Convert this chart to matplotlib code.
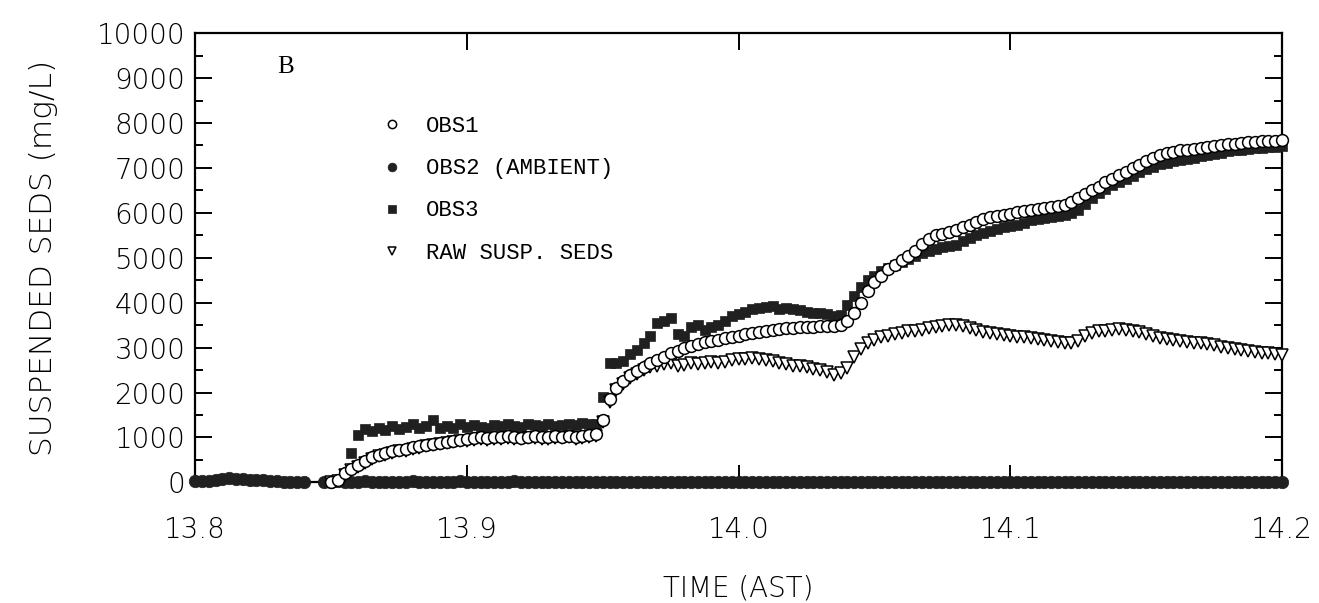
import numpy as np
import matplotlib.pyplot as plt

# sample spacing of the logger record (hours)
step = 0.0025

# OBS2 (ambient) record starts at 13.80; two missing samples near 13.843
ambient_start = 13.80
obs2_ambient = [30, 30, 40, 50, 70, 90, 80, 70, 60, 50, 50, 40, 30, 20, 10, 0, 0,
                np.nan, np.nan,
                10, 20, 30, 20, 10, 20, 30, 20, 10, 20,
                20, 10, 20, 30, 20, 10, 20, 20, 10, 20,
                30, 20, 10, 10, 20, 20, 10, 20, 30, 20,
                10, 20, 20, 10, 0, 10, 20, 10, 10, 20,
                10, 0, 10, 20, 10, 10, 0, 10, 20, 10,
                0, 10, 10, 0, 10, 20, 10, 0, 10, 10,
                0, 10, 0, 10, 10, 0, 10, 0, 0, 10,
                10, 0, 10, 0, 0, 10, 0, 10, 0, 0,
                10, 0, 0, 10, 0, 0, 10, 0, 0, 0,
                10, 0, 0, 0, 10, 0, 0, 0, 10, 0,
                0, 0, 10, 0, 0, 0, 0, 10, 0, 0,
                0, 0, 0, 10, 0, 0, 0, 0, 0, 10,
                0, 0, 0, 0, 0, 10, 0, 0, 0, 0,
                0, 0, 10, 0, 0, 0, 0, 0, 0, 0,
                0, 0]

# the other sensors come on line at 13.85
sensor_start = 13.85
obs1 = [10, 60, 200, 300, 380,
        480, 560, 610, 650, 690, 720, 740, 780, 800, 830,
        860, 880, 900, 930, 950, 960, 990, 1000, 980, 1010,
        1000, 1030, 1010, 990, 1020, 1030, 1010, 1000, 1030, 1020,
        1040, 1010, 1030, 1050, 1080,
        1400, 1850, 2100, 2250, 2380, 2480, 2570, 2650, 2720, 2800,
        2870, 2930, 2990, 3040, 3080, 3120, 3150, 3180, 3210, 3240,
        3270, 3300, 3320, 3350, 3380, 3400, 3420, 3430, 3440, 3450,
        3460, 3470, 3480, 3480, 3490, 3510,
        3600, 3780, 3990, 4250, 4450, 4600, 4750, 4850,
        4950, 5050, 5150, 5300, 5420, 5500, 5540, 5570,
        5620, 5680, 5740, 5800, 5860, 5900, 5920, 5950, 5980, 6010,
        6040, 6070, 6090, 6110, 6130, 6150, 6170, 6240, 6340, 6420,
        6500, 6580, 6680, 6760, 6840, 6920, 6990, 7070, 7150, 7230,
        7290, 7330, 7360, 7390, 7410, 7430, 7450, 7470, 7490, 7510,
        7530, 7540, 7560, 7570, 7580, 7590, 7600, 7610, 7620]

obs3 = [20, 40, 150, 650, 1050,
        1180, 1150, 1220, 1170, 1260, 1190, 1230, 1300, 1210, 1250,
        1380, 1220, 1260, 1200, 1290, 1230, 1270, 1240, 1220, 1280,
        1250, 1300, 1260, 1240, 1290, 1270, 1250, 1310, 1260, 1280,
        1300, 1270, 1320, 1290, 1300,
        1900, 2650, 2650, 2700, 2850, 2950, 3100, 3250, 3550, 3600,
        3650, 3300, 3250, 3450, 3500, 3400, 3450, 3500, 3600, 3700,
        3750, 3800, 3850, 3880, 3900, 3920, 3870, 3880, 3850, 3830,
        3800, 3780, 3760, 3740, 3700, 3720,
        3950, 4150, 4350, 4500, 4600, 4700, 4780, 4850,
        4910, 4980, 5040, 5100, 5160, 5200, 5230, 5260,
        5290, 5380, 5450, 5500, 5550, 5600, 5640, 5680, 5710, 5740,
        5780, 5830, 5860, 5890, 5910, 5930, 5950, 5990, 6060, 6200,
        6330, 6450, 6540, 6610, 6680, 6750, 6830, 6900, 6970, 7030,
        7090, 7120, 7150, 7180, 7200, 7230, 7260, 7280, 7310, 7340,
        7370, 7390, 7410, 7420, 7440, 7450, 7460, 7470, 7480]

raw_susp = [10, 40, 170, 270, 350,
            440, 520, 580, 620, 660, 690, 710, 750, 770, 800,
            830, 850, 870, 900, 920, 930, 950, 960, 950, 970,
            960, 990, 970, 960, 980, 990, 970, 960, 990, 980,
            1000, 970, 990, 1010, 1040,
            1350, 1800, 2050, 2200, 2320, 2420, 2500, 2560, 2600, 2640,
            2660, 2600, 2620, 2650, 2640, 2660, 2670, 2650, 2680, 2720,
            2740, 2750, 2760, 2750, 2730, 2700, 2660, 2630, 2600, 2580,
            2560, 2530, 2500, 2460, 2400, 2430,
            2550, 2800, 2980, 3100, 3180, 3230, 3260, 3300,
            3330, 3360, 3380, 3400, 3440, 3460, 3480, 3500,
            3500, 3480, 3430, 3400, 3350, 3320, 3300, 3280, 3260, 3240,
            3230, 3210, 3200, 3180, 3150, 3130, 3110, 3100, 3150, 3250,
            3330, 3360, 3380, 3400, 3410, 3400, 3380, 3350, 3300, 3250,
            3220, 3190, 3170, 3150, 3130, 3110, 3100, 3080, 3050, 3020,
            2990, 2970, 2950, 2930, 2910, 2890, 2870, 2850, 2840]

x_ticks = [13.8, 13.9, 14.0, 14.1, 14.2]
x_ticklabels = ["13.8", "13.9", "14.0", "14.1", "14.2"]
y_ticks = list(range(0, 10001, 1000))


def times(start, values):
    return start + step * np.arange(len(values))


ink = "#202020"
fig = plt.figure(figsize=(13.19, 6.03), dpi=100)
ax = fig.add_axes([0.148, 0.200, 0.824, 0.745])

ax.plot(times(ambient_start, obs2_ambient), obs2_ambient, "o", ms=9,
        mfc=ink, mec=ink, mew=0.5, clip_on=False, label="OBS2 (AMBIENT)", zorder=3)
ax.plot(times(sensor_start, obs3), obs3, "s", ms=7.5,
        mfc=ink, mec=ink, mew=0.5, clip_on=False, label="OBS3", zorder=4)
ax.plot(times(sensor_start, raw_susp), raw_susp, "v", ms=9,
        mfc="white", mec="black", mew=1.1, clip_on=False, label="RAW SUSP. SEDS", zorder=5)
ax.plot(times(sensor_start, obs1), obs1, "o", ms=8.5,
        mfc="white", mec="black", mew=1.1, clip_on=False, label="OBS1", zorder=6)

ax.set_xlim(13.8, 14.2)
ax.set_ylim(0, 10000)
ax.set_xticks(x_ticks)
ax.set_xticklabels(x_ticklabels)
ax.set_yticks(y_ticks)
ax.set_yticks(np.arange(500, 10000, 1000), minor=True)

for lab in ax.get_xticklabels() + ax.get_yticklabels():
    lab.set_fontfamily("DejaVu Sans")
    lab.set_fontsize(20)
    lab.set_fontweight("light")

ax.tick_params(axis="both", which="major", direction="in", length=12, width=1.4,
               top=True, right=True, colors="black")
ax.tick_params(axis="y", which="minor", direction="in", length=6, width=1.4,
               right=True)
ax.tick_params(axis="x", which="major", pad=24)
ax.tick_params(axis="y", which="major", pad=7)
for side in ax.spines.values():
    side.set_linewidth(1.6)

ax.set_xlabel("TIME (AST)", family="DejaVu Sans", size=20, weight="light",
              labelpad=22)
ax.set_ylabel("SUSPENDED SEDS (mg/L)", family="DejaVu Sans", size=22.5,
              weight="light", labelpad=28)

ax.text(0.075, 0.925, "B", transform=ax.transAxes, family="Liberation Serif",
        fontsize=18, va="center", ha="left")

handles, labels = ax.get_legend_handles_labels()
order = [labels.index(n) for n in ["OBS1", "OBS2 (AMBIENT)", "OBS3", "RAW SUSP. SEDS"]]
leg = ax.legend([handles[i] for i in order], [labels[i] for i in order],
                loc="upper left", bbox_to_anchor=(0.163, 0.835), frameon=False,
                numpoints=1, markerscale=0.7, handlelength=1.0, handletextpad=1.0,
                labelspacing=0.95, borderaxespad=0,
                prop=dict(family="Liberation Mono", size=16))

fig.savefig("out.png", dpi=100)
